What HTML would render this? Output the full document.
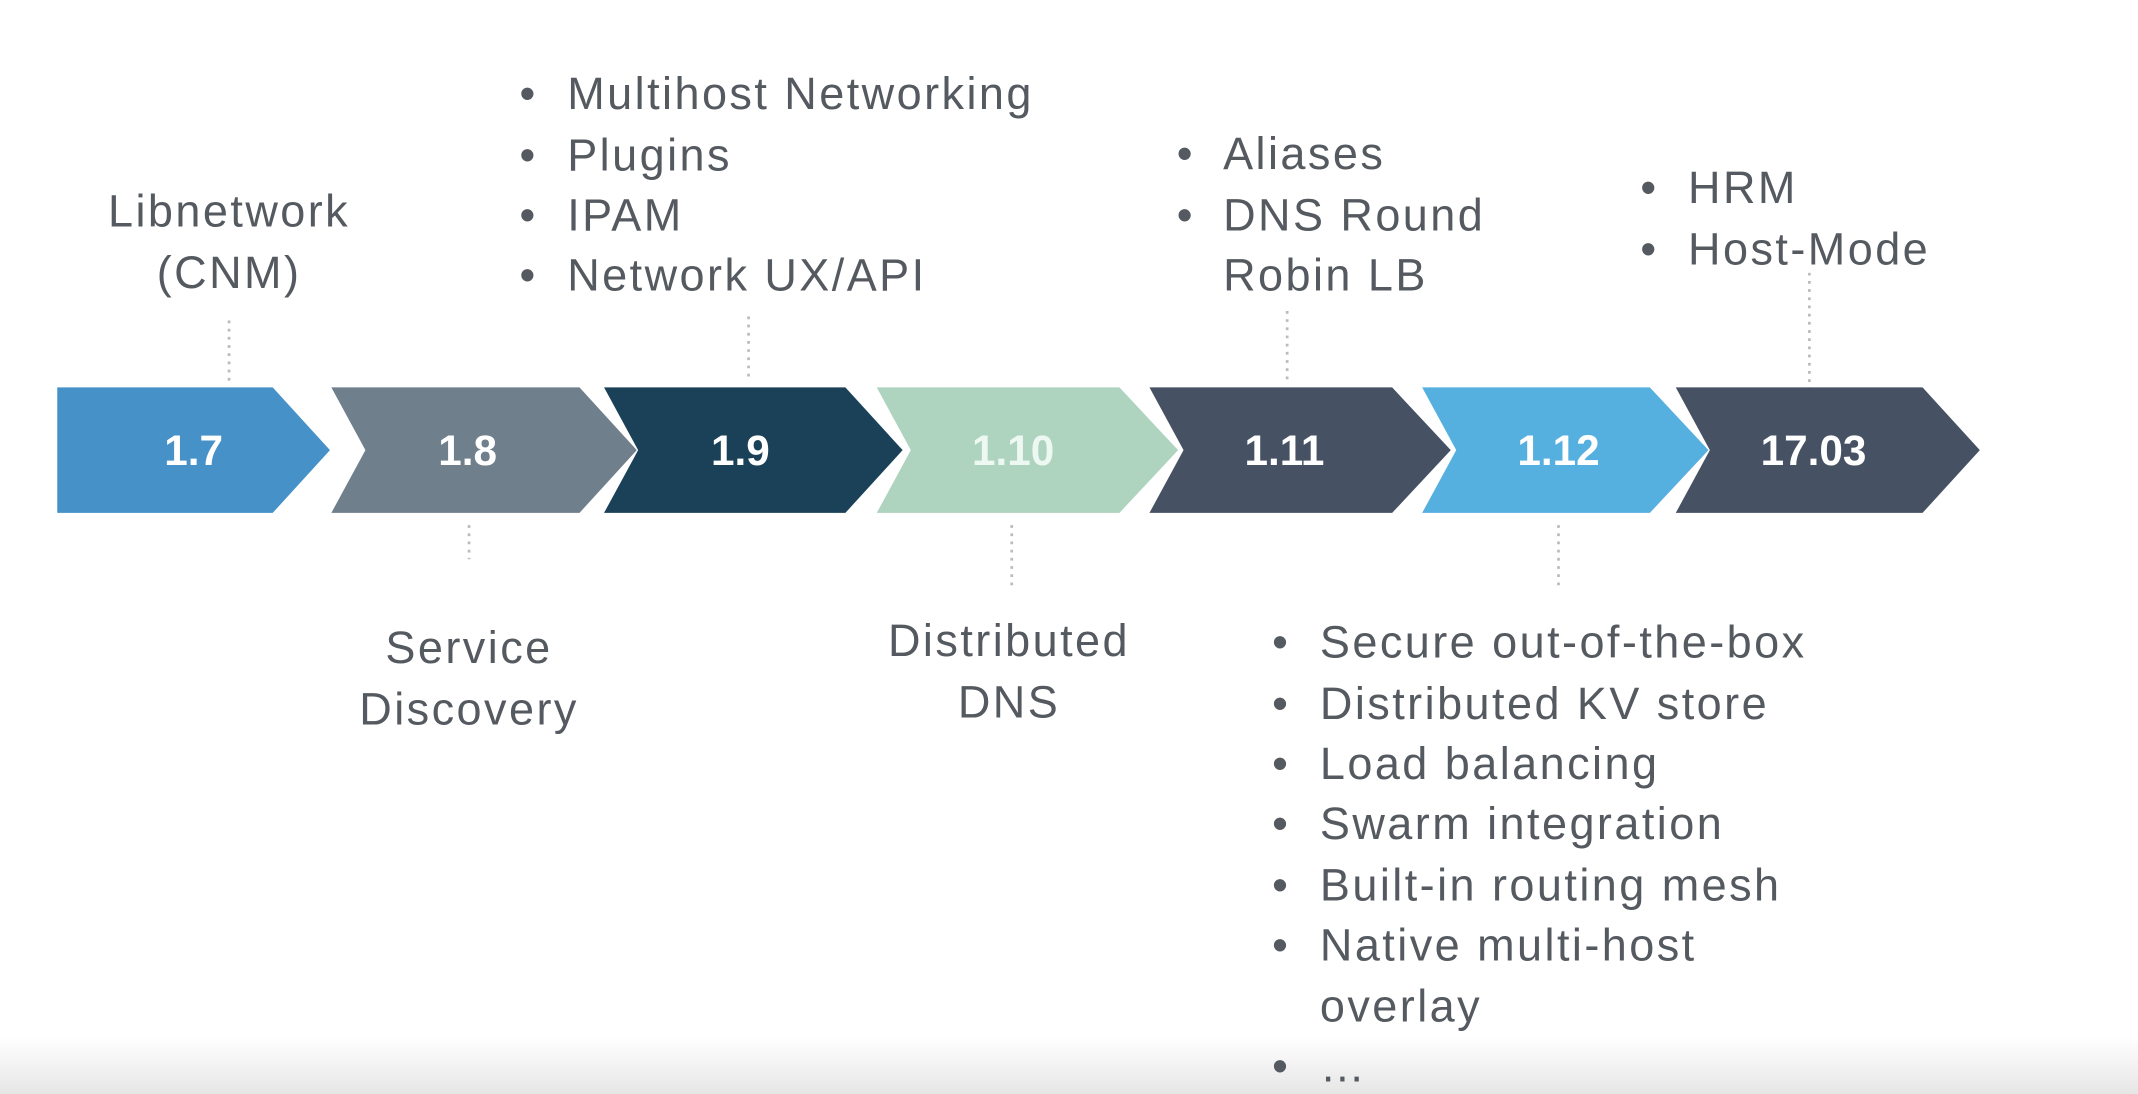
<!DOCTYPE html>
<html><head><meta charset="utf-8"><style>
html,body{margin:0;padding:0;background:#fff;}
svg{display:block;}
text{font-family:"Liberation Sans",sans-serif;}
.l{fill:#555a60;font-size:33px;letter-spacing:1.8px;}
.n{fill:#fff;font-size:31px;font-weight:bold;}
.d{stroke:#bbb;stroke-width:2;stroke-dasharray:2 4;}
</style></head><body>
<svg width="2138" height="1094" viewBox="0 0 1568 802" preserveAspectRatio="none">
<defs><linearGradient id="g" x1="0" y1="0" x2="0" y2="1"><stop offset="0" stop-color="#fff"/><stop offset="1" stop-color="#e6e6e6"/></linearGradient></defs>
<rect x="0" y="760" width="1568" height="42" fill="url(#g)"/>
<line class="d" x1="168" y1="235" x2="168" y2="280"/>
<line class="d" x1="549" y1="232" x2="549" y2="280"/>
<line class="d" x1="944" y1="228" x2="944" y2="280"/>
<line class="d" x1="1327" y1="200" x2="1327" y2="292"/>
<line class="d" x1="344" y1="385" x2="344" y2="410"/>
<line class="d" x1="742" y1="385" x2="742" y2="432"/>
<line class="d" x1="1143" y1="385" x2="1143" y2="432"/>
<polygon points="42,284 200,284 242,330 200,376 42,376" fill="#4591c8"/>
<polygon points="243,284 425,284 467,330 425,376 243,376 268,330" fill="#6f7f8c"/>
<polygon points="443,284 620,284 662,330 620,376 443,376 468,330" fill="#1b4159"/>
<polygon points="643,284 821,284 864,330 821,376 643,376 668,330" fill="#aed3bf"/>
<polygon points="843,284 1021,284 1064,330 1021,376 843,376 868,330" fill="#465264"/>
<polygon points="1043,284 1210,284 1253,330 1210,376 1043,376 1068,330" fill="#55b0e0"/>
<polygon points="1229,284 1410,284 1452,330 1410,376 1229,376 1254,330" fill="#465264"/>
<text class="n" x="142" y="341" text-anchor="middle">1.7</text>
<text class="n" x="343" y="341" text-anchor="middle">1.8</text>
<text class="n" x="543" y="341" text-anchor="middle">1.9</text>
<text class="n" x="743" y="341" text-anchor="middle" style="fill:#eef8f2">1.10</text>
<text class="n" x="942" y="341" text-anchor="middle">1.11</text>
<text class="n" x="1143" y="341" text-anchor="middle">1.12</text>
<text class="n" x="1330" y="341" text-anchor="middle">17.03</text>
<text class="l" x="168" y="166" text-anchor="middle">Libnetwork</text>
<text class="l" x="168" y="211" text-anchor="middle">(CNM)</text>
<g class="l">
<text x="381" y="80">•</text><text x="416" y="80">Multihost Networking</text>
<text x="381" y="125">•</text><text x="416" y="125">Plugins</text>
<text x="381" y="169">•</text><text x="416" y="169">IPAM</text>
<text x="381" y="213">•</text><text x="416" y="213">Network UX/API</text>
<text x="863" y="124">•</text><text x="897" y="124">Aliases</text>
<text x="863" y="169">•</text><text x="897" y="169">DNS Round</text>
<text x="897" y="213">Robin LB</text>
<text x="1203" y="149">•</text><text x="1238" y="149">HRM</text>
<text x="1203" y="194">•</text><text x="1238" y="194">Host-Mode</text>
</g>
<text class="l" x="344" y="486" text-anchor="middle">Service</text>
<text class="l" x="344" y="531" text-anchor="middle">Discovery</text>
<text class="l" x="740" y="481" text-anchor="middle">Distributed</text>
<text class="l" x="740" y="526" text-anchor="middle">DNS</text>
<g class="l">
<text x="933" y="482">•</text><text x="968" y="482">Secure out-of-the-box</text>
<text x="933" y="527">•</text><text x="968" y="527">Distributed KV store</text>
<text x="933" y="571">•</text><text x="968" y="571">Load balancing</text>
<text x="933" y="615">•</text><text x="968" y="615">Swarm integration</text>
<text x="933" y="660">•</text><text x="968" y="660">Built-in routing mesh</text>
<text x="933" y="704">•</text><text x="968" y="704">Native multi-host</text>
<text x="968" y="749">overlay</text>
<text x="933" y="793">•</text><text x="968" y="793">…</text>
</g>
</svg>
</body></html>
